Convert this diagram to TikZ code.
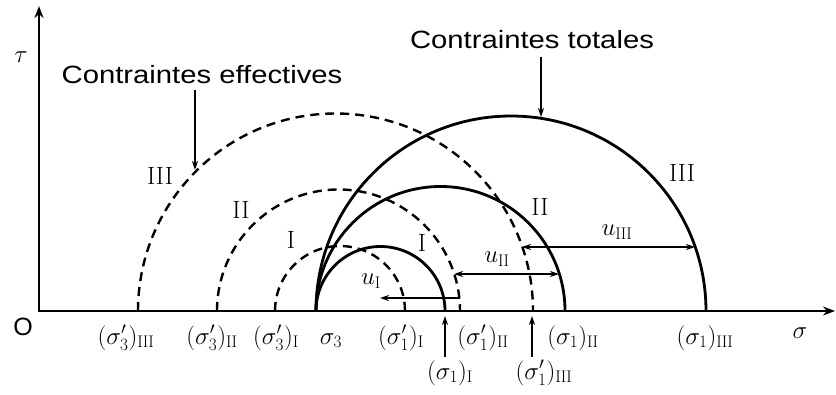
\documentclass[tikz,border=0pt]{standalone}
\usepackage{fontspec}
\usepackage{graphicx}
\usetikzlibrary{arrows.meta}
\newfontfamily\sansf{Liberation Sans}
\begin{document}
\begin{tikzpicture}[x=1pt,y=-1pt,
  ax/.style={line width=2.6pt},
  tot/.style={line width=2.8pt},
  eff/.style={line width=2.4pt, dash pattern=on 9pt off 6pt},
  ua/.style={line width=1.5pt},
  tip/.style={-{Stealth[length=9pt,width=6pt]}},
  dtip/.style={{Stealth[length=9pt,width=6pt]}-{Stealth[length=9pt,width=6pt]}},
  lab/.style={font=\fontsize{24}{26}\selectfont, inner sep=0pt},
  rom/.style={font=\fontsize{25}{27}\selectfont, inner sep=0pt},
  captxt/.style={font=\sansf\fontsize{25}{28}\selectfont, inner sep=0pt, anchor=base}]
\useasboundingbox (0,0) rectangle (836,394);
% axes
\coordinate (O) at (39,311);
\coordinate (ytop) at (39,6);
\coordinate (xend) at (835,311);
\draw[ax, {Stealth[length=12pt,width=9pt]}-{Stealth[length=12pt,width=9pt]}] (ytop) -- (O) -- (xend);
\node[font=\sansf\fontsize{25}{27}\selectfont, inner sep=0pt] (Olab) at (23,327) {O};
\node[lab] (tau) at (21,57) {$\tau$};
\node[lab, anchor=base] (sig) at (800,338) {$\sigma$};
% total stress circles
\draw[tot] (316,311) arc[start angle=180,end angle=360,radius=64.5];
\draw[tot] (316,311) arc[start angle=180,end angle=360,radius=124.5];
\draw[tot] (316,311) arc[start angle=180,end angle=360,radius=195];
% effective stress circles
\draw[eff] (275,311) arc[start angle=180,end angle=360,radius=65];
\draw[eff] (217,311) arc[start angle=180,end angle=360,radius=121.5];
\draw[eff] (138,311) arc[start angle=180,end angle=360,radius=197.5];
% axis labels
\node[lab, anchor=base] (s3III) at (126,344) {$(\sigma_3')_{\mathrm{III}}$};
\node[lab, anchor=base] (s3II) at (212,344) {$(\sigma_3')_{\mathrm{II}}$};
\node[lab, anchor=base] (s3I) at (276,344) {$(\sigma_3')_{\mathrm{I}}$};
\node[lab, anchor=base] (s3) at (331,344) {$\sigma_3$};
\node[lab, anchor=base] (s1pI) at (401,344) {$(\sigma_1')_{\mathrm{I}}$};
\node[lab, anchor=base] (s1pII) at (483,344) {$(\sigma_1')_{\mathrm{II}}$};
\node[lab, anchor=base] (s1II) at (573,344) {$(\sigma_1)_{\mathrm{II}}$};
\node[lab, anchor=base] (s1III) at (705,344) {$(\sigma_1)_{\mathrm{III}}$};
\node[lab, anchor=base] (s1I) at (450,379) {$(\sigma_1)_{\mathrm{I}}$};
\node[lab, anchor=base] (s1pIII) at (544,379) {$(\sigma_1')_{\mathrm{III}}$};
% pointer arrows from below
\coordinate (p1b) at (445,357);
\coordinate (p1t) at (445,316);
\coordinate (p2b) at (532,357);
\coordinate (p2t) at (532,316);
\draw[ua, line width=2pt, tip] (p1b) -- (p1t);
\draw[ua, line width=2pt, tip] (p2b) -- (p2t);
% u arrows
\coordinate (uIa) at (460,298);
\coordinate (uIb) at (380,298);
\draw[ua, tip] (uIa) -- (uIb);
\coordinate (uIIa) at (454,274);
\coordinate (uIIb) at (559,274);
\draw[ua, dtip] (uIIa) -- (uIIb);
\coordinate (uIIIa) at (522,247);
\coordinate (uIIIb) at (695,247);
\draw[ua, dtip] (uIIIa) -- (uIIIb);
\node[lab] (uI) at (371,281) {$u_{\mathrm{I}}$};
\node[lab] (uII) at (497,259) {$u_{\mathrm{II}}$};
\node[lab] (uIII) at (617,232) {$u_{\mathrm{III}}$};
% roman labels
\node[rom] (eIII) at (160,176) {III};
\node[rom] (eII) at (241,210) {II};
\node[rom] (eI) at (291,240) {I};
\node[rom] (tI) at (422,243) {I};
\node[rom] (tII) at (540,207) {II};
\node[rom] (tIII) at (682,173) {III};
% captions
\node[captxt] (ceff) at (202,83) {\scalebox{1.17}[1]{Contraintes effectives}};
\node[captxt] (ctot) at (532,48) {\scalebox{1.17}[1]{Contraintes totales}};
\coordinate (ea) at (195,90);
\coordinate (eb) at (195,170);
\coordinate (ta) at (541,57);
\coordinate (tb) at (541,117);
\draw[ua, line width=1.8pt, tip] (ea) -- (eb);
\draw[ua, line width=1.8pt, tip] (ta) -- (tb);
\end{tikzpicture}
\end{document}
